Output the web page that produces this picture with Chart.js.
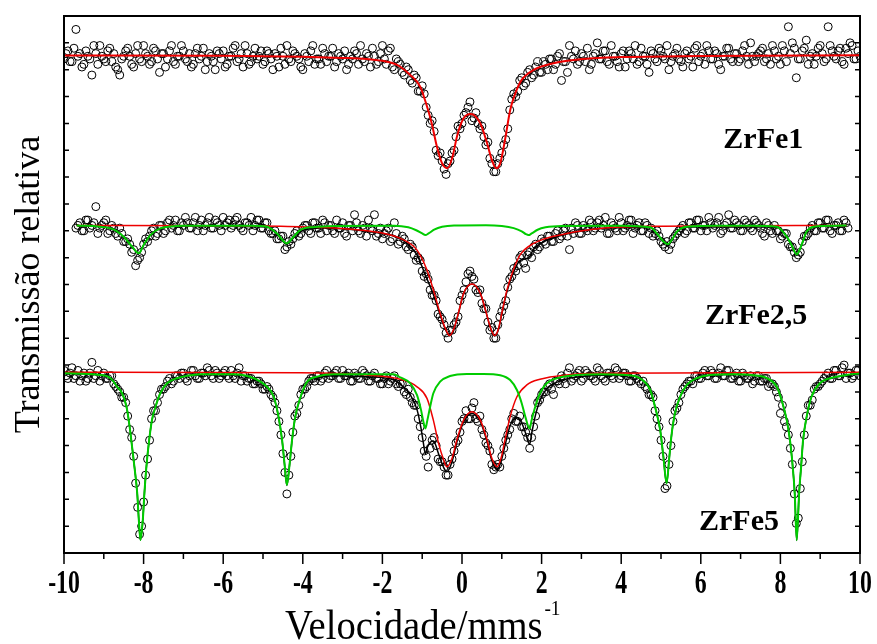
<!DOCTYPE html>
<html>
<head>
<meta charset="utf-8">
<script src="https://cdn.jsdelivr.net/npm/chart.js@4.4.1/dist/chart.umd.min.js"></script>
<style>
  html, body { margin: 0; padding: 0; background: #fff; }
  #wrap { width: 877px; height: 644px; position: relative; }
</style>
</head>
<body>
<div id="wrap"><canvas id="chart"></canvas></div>
<script>
// measured spectra, x = start + i * step (mm/s); two interleaved channel sets per sample
const step = 0.1;
const fe1Start = -10, fe1StartB = -9.95;
const fe25Start = -9.7, fe25StartB = -9.65;
const fe5Start = -10, fe5StartB = -9.95;

const zrfe1Data = [
  18.4, 18.7, 18.3, 19.5, 18.6, 18.2, 18.5, 17.8, 18.6, 18.9,
  18.4, 18.7, 18.3, 18.1, 17.8, 18.5, 18.8, 18.2, 18.6, 18.4,
  18.9, 18.5, 18.3, 18.7, 17.9, 18.6, 18.4, 18.9, 18.2, 18.5,
  18.7, 18.3, 18.1, 18.6, 18.4, 18.8, 18.3, 18.5, 18.0, 18.6,
  18.7, 18.2, 18.5, 18.9, 18.4, 18.1, 18.6, 18.3, 18.8, 18.5,
  18.2, 18.7, 18.4, 18.6, 18.1, 18.5, 18.9, 18.3, 18.6, 18.4,
  18.0, 18.5, 18.7, 18.2, 18.4, 18.8, 18.3, 18.5, 18.1, 18.6,
  18.4, 18.0, 18.5, 18.7, 18.2, 18.4, 18.6, 18.1, 18.5, 18.3,
  18.9, 18.2, 18.8, 18.0, 18.3, 17.9, 18.1, 17.6, 17.8, 17.2,
  17.4, 16.6, 16.0, 15.7, 14.8, 14.6, 14.1, 14.6, 15.0, 15.9,
  16.0, 16.4, 16.8, 16.2, 16.0, 15.9, 15.2, 14.7, 14.2, 14.5,
  14.9, 15.4, 16.5, 17.1, 17.2, 17.7, 17.5, 18.0, 17.8, 18.3,
  17.9, 18.2, 18.4, 18.0, 18.5, 17.6, 18.3, 18.9, 18.4, 18.2,
  18.6, 18.3, 18.0, 18.5, 19.0, 18.4, 18.7, 18.2, 18.5, 18.3,
  18.6, 18.1, 18.7, 18.4, 18.2, 18.8, 18.5, 17.9, 18.6, 18.3,
  18.7, 18.4, 18.0, 18.5, 18.8, 18.3, 18.6, 18.4, 18.1, 18.9,
  18.5, 18.2, 18.7, 18.4, 18.6, 18.0, 18.5, 18.8, 18.3, 18.6,
  18.4, 18.9, 18.2, 18.5, 18.5, 18.7, 18.3, 18.6, 18.9, 18.4,
  18.2, 18.7, 19.6, 19.0, 17.7, 18.4, 18.8, 18.2, 18.6, 18.5,
  18.9, 18.3, 19.6, 18.7, 18.4, 18.8, 18.2, 18.6, 18.9, 18.4,
  18.5
];
const zrfe1DataB = [
  18.6, 18.3, 18.8, 18.5, 18.1, 18.7, 18.4, 18.9, 18.2, 18.5,
  18.3, 18.8, 18.6, 18.0, 18.4, 18.7, 18.5, 18.1, 18.9, 18.3,
  18.6, 18.2, 18.8, 18.4, 18.6, 18.1, 18.7, 18.3, 18.5, 18.9,
  18.4, 18.6, 18.2, 18.8, 18.5, 18.0, 18.6, 18.3, 18.7, 18.4,
  18.1, 18.5, 18.8, 18.3, 18.6, 18.9, 18.2, 18.5, 18.4, 18.7,
  18.3, 18.6, 18.0, 18.5, 18.8, 18.2, 18.4, 18.7, 18.5, 18.1,
  18.6, 18.3, 18.9, 18.4, 18.2, 18.6, 18.5, 18.8, 18.3, 18.5,
  18.7, 18.2, 18.4, 18.6, 18.9, 18.3, 18.5, 18.8, 18.2, 18.6,
  18.4, 18.7, 18.1, 18.4, 18.2, 17.8, 18.0, 17.5, 17.7, 17.2,
  17.1, 16.3, 16.1, 15.0, 14.9, 14.3, 14.5, 14.9, 15.5, 15.8,
  16.3, 16.6, 16.1, 16.4, 15.8, 15.5, 15.3, 14.5, 14.2, 14.7,
  15.2, 15.8, 16.9, 17.0, 17.6, 17.4, 17.9, 17.7, 18.1, 17.9,
  18.3, 18.0, 18.4, 18.2, 18.6, 18.3, 17.9, 18.5, 18.7, 18.3,
  18.5, 18.8, 18.2, 18.6, 18.4, 18.7, 18.3, 18.9, 18.5, 18.1,
  18.7, 18.4, 18.6, 18.9, 18.3, 18.5, 18.2, 18.7, 18.4, 18.8,
  18.5, 18.9, 18.3, 18.6, 18.4, 18.1, 18.7, 18.5, 18.8, 18.3,
  18.6, 18.9, 18.4, 18.7, 18.2, 18.5, 18.8, 18.4, 18.6, 18.3,
  18.7, 18.5, 19.0, 18.3, 18.6, 18.8, 18.4, 18.2, 18.7, 18.5,
  18.9, 18.3, 18.6, 18.8, 18.4, 18.7, 19.1, 18.5, 18.2, 18.8,
  18.6, 18.4, 18.9, 18.5, 18.7, 18.3, 18.8, 19.0, 18.4, 18.7
];

const zrfe25Data = [
  12.1, 12.3, 12.0, 12.4, 12.2, 12.9, 12.1, 12.3, 11.9, 12.2,
  11.9, 12.1, 11.6, 11.7, 11.2, 10.7, 11.0, 11.5, 11.6, 12.0,
  11.8, 12.2, 11.9, 12.3, 12.1, 12.4, 12.0, 12.2, 12.3, 12.1,
  12.5, 12.2, 12.0, 12.3, 12.1, 12.4, 12.2, 12.5, 12.3, 12.1,
  12.4, 12.2, 12.0, 12.3, 12.5, 12.2, 12.4, 12.1, 12.3, 11.9,
  12.0, 11.7, 11.8, 11.4, 11.5, 11.9, 11.8, 12.1, 12.2, 11.9,
  12.3, 12.1, 12.4, 12.0, 12.2, 11.9, 12.1, 12.3, 11.8, 12.2,
  12.6, 12.0, 12.2, 11.8, 12.1, 12.6, 11.9, 11.7, 12.0, 11.6,
  12.3, 11.5, 11.8, 11.4, 11.5, 11.1, 11.0, 10.5, 10.4, 9.8,
  9.6, 8.9, 8.7, 8.2, 8.3, 8.5, 8.8, 9.6, 10.1, 10.5,
  10.2, 9.7, 9.3, 9.1, 8.3, 8.0, 8.5, 9.0, 9.4, 10.2,
  10.6, 10.7, 11.1, 10.6, 11.2, 11.4, 11.3, 11.7, 11.5, 11.8,
  11.6, 12.0, 11.8, 12.1, 11.3, 11.9, 12.2, 11.9, 12.1, 12.4,
  12.0, 12.3, 12.1, 12.5, 11.9, 12.2, 12.0, 12.3, 12.1, 12.4,
  11.9, 12.2, 12.0, 12.3, 11.9, 11.8, 12.0, 11.6, 11.4, 11.3,
  11.7, 11.9, 12.1, 11.9, 12.3, 12.1, 12.4, 12.0, 12.2, 12.5,
  12.1, 12.3, 11.9, 12.2, 12.6, 12.1, 12.3, 12.0, 12.4, 12.2,
  12.0, 12.3, 12.1, 11.8, 12.2, 11.9, 12.0, 11.7, 11.9, 11.5,
  11.4, 11.0, 11.2, 11.8, 11.9, 12.2, 12.0, 12.3, 12.1, 12.4,
  11.9, 12.2, 12.0, 12.4, 12.1
];
const zrfe25DataB = [
  12.2, 12.0, 12.4, 12.1, 12.3, 11.9, 12.2, 12.4, 12.0, 12.1,
  11.8, 11.9, 11.6, 11.5, 11.3, 10.9, 11.2, 11.7, 11.8, 12.1,
  11.9, 12.2, 12.0, 12.4, 12.2, 12.0, 12.3, 12.5, 12.1, 12.3,
  12.0, 12.4, 12.2, 12.5, 12.1, 12.3, 12.0, 12.2, 12.4, 12.2,
  12.5, 12.1, 12.3, 12.2, 12.0, 12.4, 12.1, 12.3, 12.0, 11.9,
  11.7, 11.8, 11.3, 11.6, 11.7, 12.0, 11.9, 12.2, 12.0, 12.3,
  12.1, 11.9, 12.3, 12.2, 12.0, 12.4, 12.1, 11.9, 12.2, 12.0,
  12.3, 11.9, 12.1, 12.4, 12.0, 11.8, 12.1, 11.9, 12.1, 11.7,
  11.9, 11.6, 11.7, 11.3, 11.4, 10.9, 10.9, 10.3, 10.2, 9.6,
  9.4, 8.8, 8.5, 8.0, 8.3, 8.6, 9.4, 9.8, 10.4, 10.3,
  9.8, 9.8, 9.1, 8.6, 8.4, 8.0, 8.8, 9.2, 9.9, 10.3,
  10.5, 11.0, 10.8, 11.1, 11.0, 11.5, 11.4, 11.6, 11.8, 11.6,
  11.9, 11.7, 12.0, 11.8, 12.1, 12.3, 11.9, 12.2, 12.0, 12.3,
  12.1, 12.4, 12.2, 11.9, 12.3, 12.1, 12.5, 12.0, 12.2, 12.4,
  12.1, 12.3, 12.0, 12.2, 12.1, 11.9, 11.8, 11.5, 11.6, 11.5,
  11.8, 12.0, 12.2, 12.0, 12.3, 12.1, 12.4, 12.2, 12.0, 12.3,
  12.2, 12.5, 12.0, 12.3, 12.1, 12.4, 12.2, 12.0, 12.3, 12.1,
  12.4, 12.2, 11.9, 12.3, 12.0, 12.2, 12.0, 11.8, 11.9, 11.4,
  11.2, 11.1, 11.6, 11.8, 12.1, 12.0, 12.3, 12.1, 12.4, 12.0,
  12.2, 12.3, 12.0, 12.3
];

const zrfe5Data = [
  6.8, 6.5, 6.9, 6.6, 6.4, 6.7, 6.5, 7.1, 6.6, 6.4,
  6.7, 6.5, 6.6, 6.2, 6.0, 5.8, 5.1, 4.3, 2.6, 0.7,
  1.9, 3.5, 5.0, 5.3, 5.9, 6.1, 6.4, 6.3, 6.6, 6.5,
  6.7, 6.4, 6.8, 6.6, 6.5, 6.7, 6.9, 6.6, 6.8, 6.5,
  6.7, 6.6, 6.8, 6.5, 6.9, 6.6, 6.4, 6.5, 6.3, 6.4,
  6.1, 6.2, 5.9, 5.6, 4.9, 3.7, 2.2, 3.6, 5.1, 5.5,
  6.1, 6.2, 6.5, 6.4, 6.6, 6.5, 6.8, 6.6, 6.7, 6.5,
  6.8, 6.6, 6.4, 6.7, 6.5, 6.8, 6.6, 6.4, 6.7, 6.5,
  6.3, 6.6, 6.4, 6.6, 6.2, 6.3, 5.9, 5.8, 5.5, 5.0,
  4.3, 3.6, 3.9, 4.3, 3.5, 3.4, 2.9, 3.3, 3.8, 4.2,
  4.9, 5.3, 5.0, 5.6, 4.9, 4.6, 4.1, 3.8, 3.1, 3.3,
  3.6, 4.2, 4.6, 5.2, 4.9, 4.7, 4.5, 3.9, 4.7, 5.6,
  5.9, 6.0, 6.3, 5.9, 6.4, 6.6, 6.3, 6.9, 6.5, 6.7,
  6.4, 6.8, 6.6, 6.5, 6.9, 6.6, 6.4, 6.7, 6.5, 6.8,
  6.6, 6.7, 6.4, 6.6, 6.5, 6.3, 6.2, 5.9, 5.8, 5.0,
  4.2, 2.4, 3.3, 4.9, 5.4, 5.9, 6.2, 6.4, 6.3, 6.6,
  6.5, 6.8, 6.6, 6.7, 6.5, 6.9, 6.6, 6.8, 6.5, 6.7,
  6.4, 6.6, 6.5, 6.3, 6.6, 6.4, 6.5, 6.2, 6.3, 6.0,
  5.2, 4.9, 4.4, 3.3, 1.1, 2.4, 4.4, 5.5, 5.7, 6.2,
  6.3, 6.5, 6.7, 6.5, 6.8, 6.6, 7.0, 6.7, 6.5, 6.8,
  6.6
];
const zrfe5DataB = [
  6.6, 6.7, 6.5, 6.8, 6.6, 6.4, 6.7, 6.5, 6.8, 6.6,
  6.5, 6.6, 6.3, 6.1, 5.8, 5.6, 4.6, 3.6, 1.7, 1.0,
  2.9, 4.2, 5.3, 5.6, 6.1, 6.2, 6.5, 6.4, 6.6, 6.7,
  6.5, 6.6, 6.8, 6.5, 6.7, 6.6, 6.8, 6.5, 6.7, 6.6,
  6.8, 6.5, 6.6, 6.7, 6.4, 6.6, 6.5, 6.3, 6.4, 6.3,
  6.1, 6.1, 5.8, 5.3, 4.4, 3.0, 2.9, 4.5, 5.2, 5.9,
  6.1, 6.4, 6.5, 6.6, 6.4, 6.7, 6.5, 6.6, 6.8, 6.5,
  6.6, 6.7, 6.4, 6.6, 6.5, 6.7, 6.4, 6.6, 6.5, 6.3,
  6.5, 6.3, 6.5, 6.3, 6.3, 6.0, 6.1, 5.6, 5.5, 4.7,
  3.8, 3.2, 4.2, 4.0, 3.4, 3.2, 2.9, 3.5, 4.1, 4.5,
  5.0, 5.0, 5.4, 5.0, 5.1, 4.4, 4.0, 3.3, 3.2, 3.2,
  3.9, 4.4, 5.0, 4.9, 5.1, 4.7, 4.3, 4.3, 5.1, 5.7,
  6.0, 6.2, 6.1, 6.4, 6.3, 6.5, 6.7, 6.4, 6.6, 6.8,
  6.5, 6.7, 6.6, 6.4, 6.8, 6.5, 6.7, 6.6, 6.9, 6.5,
  6.7, 6.6, 6.4, 6.6, 6.4, 6.4, 6.1, 5.9, 5.3, 4.7,
  3.6, 2.5, 4.0, 5.3, 5.6, 6.1, 6.3, 6.4, 6.6, 6.5,
  6.7, 6.6, 6.8, 6.5, 6.7, 6.6, 6.8, 6.5, 6.6, 6.4,
  6.7, 6.5, 6.6, 6.4, 6.6, 6.4, 6.5, 6.3, 6.2, 5.8,
  5.5, 4.7, 3.9, 2.2, 1.3, 3.4, 5.1, 5.5, 6.1, 6.2,
  6.4, 6.6, 6.5, 6.8, 6.6, 6.9, 6.5, 6.7, 6.6, 6.8
];

// fitted curves
const fe1FitX = [-10, -6, -4, -3, -2.4, -2, -1.7, -1.55, -1.3, -1.05, -0.93, -0.76, -0.63, -0.5, -0.37, -0.24, -0.12, 0.04, 0.22, 0.46, 0.63, 0.75, 0.86, 0.96, 1.08, 1.21, 1.34, 1.5, 1.8, 2.3, 3.05, 4, 6, 10];
const fe1FitY = [18.53, 18.52, 18.48, 18.44, 18.4, 18.33, 18.22, 18.11, 17.8, 17.37, 16.87, 16.0, 15.13, 14.51, 14.33, 14.75, 15.55, 16.19, 16.35, 16.0, 15.26, 14.64, 14.33, 14.51, 15.38, 16.49, 17.12, 17.62, 17.99, 18.24, 18.4, 18.47, 18.51, 18.54];

const fe25SextetX = [-9.68, -8.83, -8.5, -8.29, -8.12, -8.0, -7.83, -7.58, -6.99, -5.3, -4.9, -4.65, -4.4, -4.23, -4.06, -3.7, -3.2, -1.7, -1.35, -1.15, -1.0, -0.92, -0.84, -0.7, -0.5, -0.2, 0.6, 1.0, 1.3, 1.5, 1.6, 1.67, 1.75, 1.9, 2.1, 2.5, 4.0, 4.73, 4.93, 5.06, 5.17, 5.27, 5.4, 5.65, 6.4, 7.3, 7.91, 8.16, 8.28, 8.41, 8.53, 8.66, 8.83, 9.1, 9.4, 9.66];
const fe25SextetY = [12.2, 12.09, 11.78, 11.41, 11.16, 11.47, 11.84, 12.09, 12.19, 12.19, 12.15, 11.9, 11.53, 11.78, 12.03, 12.14, 12.18, 12.19, 12.13, 12.02, 11.9, 11.84, 11.9, 12.04, 12.15, 12.2, 12.21, 12.18, 12.1, 11.98, 11.88, 11.84, 11.9, 12.04, 12.13, 12.18, 12.19, 12.13, 11.84, 11.6, 11.5, 11.66, 11.97, 12.15, 12.19, 12.19, 12.15, 11.78, 11.47, 11.12, 11.47, 11.97, 12.15, 12.18, 12.19, 12.2];

const fe25DoubletX = [-9.68, -6, -4.06, -2.39, -1.55, -1.13, -0.88, -0.72, -0.55, -0.42, -0.31, -0.2, -0.08, 0.04, 0.25, 0.46, 0.6, 0.72, 0.82, 0.92, 1.0, 1.13, 1.29, 1.46, 1.8, 2.63, 3.47, 5, 9.66];
const fe25DoubletY = [12.2, 12.19, 12.15, 12.0, 11.72, 11.28, 10.54, 9.8, 8.93, 8.37, 8.1, 8.37, 9.0, 9.67, 10.02, 9.67, 9.0, 8.37, 8.1, 8.37, 8.93, 9.8, 10.54, 11.1, 11.53, 11.9, 12.09, 12.17, 12.2];

const fe25TotalX = [-9.68, -8.83, -8.5, -8.29, -8.12, -8.0, -7.83, -7.58, -6.99, -4.9, -4.65, -4.4, -4.23, -4.06, -3.5, -2.39, -1.55, -1.35, -1.13, -1.0, -0.92, -0.88, -0.72, -0.55, -0.42, -0.31, -0.2, -0.08, 0.04, 0.25, 0.46, 0.6, 0.72, 0.82, 0.92, 1.0, 1.13, 1.29, 1.46, 1.67, 1.8, 2.1, 2.63, 3.47, 4.73, 4.93, 5.06, 5.17, 5.27, 5.4, 5.65, 7.91, 8.16, 8.28, 8.41, 8.53, 8.66, 8.83, 9.66];
const fe25TotalY = [12.2, 12.09, 11.78, 11.41, 11.16, 11.47, 11.84, 12.09, 12.18, 12.14, 11.88, 11.5, 11.74, 11.98, 12.1, 11.98, 11.71, 11.48, 11.1, 10.65, 10.34, 10.21, 9.63, 8.87, 8.34, 8.09, 8.35, 8.98, 9.66, 10.02, 9.66, 8.99, 8.36, 8.08, 8.34, 8.91, 9.74, 10.44, 10.9, 10.99, 11.31, 11.63, 11.88, 12.09, 12.12, 11.83, 11.59, 11.49, 11.65, 11.96, 12.14, 12.14, 11.77, 11.46, 11.11, 11.46, 11.96, 12.14, 12.19];

const fe5SextetX = [-10, -9.08, -8.83, -8.66, -8.54, -8.43, -8.35, -8.29, -8.23, -8.16, -8.12, -8.08, -8.02, -7.98, -7.93, -7.86, -7.79, -7.7, -7.58, -7.41, -7.16, -6.91, -6.57, -5.74, -5.23, -4.9, -4.73, -4.61, -4.52, -4.46, -4.4, -4.33, -4.27, -4.19, -4.06, -3.89, -3.64, -3.23, -1.72, -1.55, -1.3, -1.13, -1.03, -0.97, -0.92, -0.87, -0.8, -0.72, -0.55, -0.3, 0.12, 0.54, 0.96, 1.21, 1.38, 1.5, 1.59, 1.7, 1.75, 1.84, 1.96, 2.13, 2.47, 2.88, 3.47, 4.14, 4.47, 4.73, 4.85, 4.98, 5.06, 5.14, 5.21, 5.27, 5.35, 5.48, 5.65, 5.9, 6.23, 6.82, 7.32, 7.66, 7.91, 8.03, 8.16, 8.24, 8.31, 8.36, 8.41, 8.47, 8.52, 8.57, 8.66, 8.78, 8.99, 9.33, 9.66, 10];
const fe5SextetY = [6.69, 6.63, 6.51, 6.19, 5.95, 5.45, 4.7, 3.96, 3.21, 2.22, 1.23, 0.48, 1.23, 2.22, 3.21, 4.21, 4.95, 5.45, 5.95, 6.32, 6.51, 6.6, 6.66, 6.66, 6.51, 6.19, 5.82, 5.08, 4.21, 3.34, 2.53, 3.34, 4.21, 5.08, 5.8, 6.38, 6.57, 6.66, 6.66, 6.54, 6.32, 5.88, 5.33, 4.89, 4.64, 4.95, 5.45, 5.95, 6.38, 6.59, 6.67, 6.67, 6.62, 6.44, 6.07, 5.58, 5.08, 4.64, 4.95, 5.45, 5.95, 6.32, 6.54, 6.63, 6.66, 6.63, 6.51, 6.07, 5.45, 4.58, 3.59, 2.6, 3.59, 4.46, 5.2, 5.82, 6.26, 6.51, 6.63, 6.66, 6.62, 6.51, 6.19, 5.7, 4.95, 4.21, 3.21, 2.22, 0.48, 2.22, 3.21, 4.21, 5.08, 5.82, 6.32, 6.54, 6.63, 6.69];

const fe5DoubletX = [-10, -4.06, -2.39, -1.55, -1.13, -0.88, -0.72, -0.59, -0.46, -0.38, -0.25, -0.13, 0.04, 0.25, 0.46, 0.63, 0.75, 0.88, 0.98, 1.08, 1.21, 1.38, 1.63, 1.96, 2.63, 3.47, 10];
const fe5DoubletY = [6.73, 6.71, 6.63, 6.47, 6.19, 5.76, 4.95, 4.09, 3.46, 3.21, 3.53, 4.21, 4.95, 5.26, 4.95, 4.21, 3.53, 3.21, 3.53, 4.21, 5.08, 5.82, 6.26, 6.47, 6.63, 6.69, 6.73];

const fe5TotalX = [-10, -9.08, -8.83, -8.66, -8.54, -8.43, -8.35, -8.29, -8.23, -8.16, -8.12, -8.08, -8.02, -7.98, -7.93, -7.86, -7.79, -7.7, -7.58, -7.41, -7.16, -6.91, -6.57, -5.74, -5.23, -4.9, -4.73, -4.61, -4.52, -4.46, -4.4, -4.33, -4.27, -4.19, -4.06, -3.89, -3.64, -3.23, -2.39, -1.72, -1.55, -1.3, -1.13, -1.03, -0.97, -0.92, -0.87, -0.8, -0.72, -0.59, -0.46, -0.38, -0.25, -0.13, 0.04, 0.25, 0.46, 0.63, 0.75, 0.88, 0.98, 1.08, 1.21, 1.38, 1.5, 1.59, 1.7, 1.75, 1.84, 1.96, 2.13, 2.47, 2.88, 3.47, 4.14, 4.47, 4.73, 4.85, 4.98, 5.06, 5.14, 5.21, 5.27, 5.35, 5.48, 5.65, 5.9, 6.23, 6.82, 7.32, 7.66, 7.91, 8.03, 8.16, 8.24, 8.31, 8.36, 8.41, 8.47, 8.52, 8.57, 8.66, 8.78, 8.99, 9.33, 9.66, 10];
const fe5TotalY = [6.69, 6.63, 6.51, 6.19, 5.95, 5.45, 4.7, 3.96, 3.21, 2.22, 1.23, 0.48, 1.23, 2.22, 3.21, 4.21, 4.95, 5.45, 5.95, 6.32, 6.51, 6.6, 6.64, 6.64, 6.49, 6.17, 5.8, 5.06, 4.19, 3.32, 2.51, 3.32, 4.19, 5.06, 5.78, 6.35, 6.53, 6.6, 6.56, 6.45, 6.28, 5.89, 5.34, 4.65, 4.09, 3.7, 3.94, 4.12, 4.17, 3.7, 3.18, 3.03, 3.4, 4.12, 4.88, 5.2, 4.89, 4.14, 3.44, 3.1, 3.4, 4.0, 4.75, 5.05, 4.85, 4.5, 4.05, 4.45, 5.1, 5.69, 6.12, 6.41, 6.55, 6.62, 6.61, 6.5, 6.06, 5.44, 4.57, 3.58, 2.59, 3.58, 4.45, 5.19, 5.81, 6.25, 6.5, 6.62, 6.65, 6.61, 6.5, 6.18, 5.69, 4.94, 4.2, 3.2, 2.21, 0.47, 2.21, 3.2, 4.2, 5.07, 5.81, 6.31, 6.53, 6.62, 6.68];

// axis ticks and annotation text
const xTickLabels = [-10, -8, -6, -4, -2, 0, 2, 4, 6, 8, 10];
const xMinorTicks = [-9, -7, -5, -3, -1, 1, 3, 5, 7, 9];
const yTicks = [1, 2, 3, 4, 5, 6, 7, 8, 9, 10, 11, 12, 13, 14, 15, 16, 17, 18, 19];
const sampleNames = ['ZrFe1', 'ZrFe2,5', 'ZrFe5'];
const sampleNameX = [7.57, 7.39, 6.96];
const sampleNameY = [15.38, 8.83, 1.15];

const RED = '#ee0000';
const GREEN = '#00cc00';

function spectrum(start, ys) {
    return ys.map((y, i) => ({ x: +(start + i * step).toFixed(2), y: y }));
}
function curve(xs, ys) {
    return xs.map((x, i) => ({ x: x, y: ys[i] }));
}
function fitLine(label, xs, ys, color, width, order) {
    return {
        label: label,
        data: curve(xs, ys),
        showLine: true,
        borderColor: color,
        borderWidth: width,
        pointRadius: 0,
        fill: false,
        cubicInterpolationMode: 'monotone',
        order: order
    };
}
function dataPoints(label, start, ys) {
    return {
        label: label,
        data: spectrum(start, ys),
        showLine: false,
        pointRadius: 4,
        pointBorderWidth: 1,
        pointBorderColor: '#000',
        pointBackgroundColor: 'rgba(0,0,0,0)',
        clip: 0,
        order: 3
    };
}

const serif = '"Liberation Serif", "Times New Roman", serif';

// frame, ticks and texts drawn from the chart scales
const framePlugin = {
    id: 'frame',
    afterDraw(chart) {
        const { ctx, chartArea: a, scales: { x, y } } = chart;
        ctx.save();
        ctx.strokeStyle = '#000';
        ctx.lineWidth = 2;
        ctx.strokeRect(a.left, a.top, a.right - a.left, a.bottom - a.top);

        ctx.lineWidth = 1.5;
        ctx.beginPath();
        xTickLabels.forEach(v => {
            const px = x.getPixelForValue(v);
            ctx.moveTo(px, a.bottom); ctx.lineTo(px, a.bottom + 11);
        });
        xMinorTicks.forEach(v => {
            const px = x.getPixelForValue(v);
            ctx.moveTo(px, a.bottom); ctx.lineTo(px, a.bottom + 6);
        });
        yTicks.forEach(v => {
            const py = y.getPixelForValue(v);
            ctx.moveTo(a.left, py); ctx.lineTo(a.left + 5, py);
            ctx.moveTo(a.right, py); ctx.lineTo(a.right - 5, py);
        });
        ctx.stroke();

        ctx.fillStyle = '#000';
        ctx.textAlign = 'center';
        ctx.textBaseline = 'middle';
        ctx.font = 'bold 34px ' + serif;
        xTickLabels.forEach(v => {
            ctx.save();
            ctx.translate(x.getPixelForValue(v), a.bottom + 31);
            ctx.scale(0.7, 1);
            ctx.fillText(String(v), 0, 0);
            ctx.restore();
        });

        ctx.font = 'bold 30px ' + serif;
        sampleNames.forEach((t, i) => {
            ctx.fillText(t, x.getPixelForValue(sampleNameX[i]), y.getPixelForValue(sampleNameY[i]));
        });

        // x title with superscript, slightly condensed like the original
        const main = 'Velocidade/mms';
        ctx.save();
        ctx.translate(285, 639);
        ctx.scale(0.92, 1);
        ctx.font = '42px ' + serif;
        ctx.textAlign = 'left';
        ctx.textBaseline = 'alphabetic';
        const w = ctx.measureText(main).width;
        ctx.fillText(main, 0, 0);
        ctx.font = '21px ' + serif;
        ctx.fillText('-1', w + 2, -24);
        ctx.restore();

        // y title
        ctx.font = '36px ' + serif;
        ctx.textAlign = 'center';
        ctx.textBaseline = 'middle';
        ctx.translate(30, (a.top + a.bottom) / 2);
        ctx.rotate(-Math.PI / 2);
        ctx.fillText('Transmissão relativa', 0, 0);
        ctx.restore();
    }
};

new Chart(document.getElementById('chart'), {
    type: 'scatter',
    data: {
        datasets: [
            fitLine('ZrFe2,5 sexteto', fe25SextetX, fe25SextetY, GREEN, 2, 0),
            fitLine('ZrFe5 sexteto', fe5SextetX, fe5SextetY, GREEN, 2, 0),
            fitLine('ZrFe1 dubleto', fe1FitX, fe1FitY, RED, 2, 1),
            fitLine('ZrFe2,5 dubleto', fe25DoubletX, fe25DoubletY, RED, 1.5, 1),
            fitLine('ZrFe5 dubleto', fe5DoubletX, fe5DoubletY, RED, 1.5, 1),
            fitLine('ZrFe2,5 total', fe25TotalX, fe25TotalY, '#000', 1.5, 2),
            fitLine('ZrFe5 total', fe5TotalX, fe5TotalY, '#000', 1.5, 2),
            dataPoints('ZrFe1', fe1Start, zrfe1Data),
            dataPoints('ZrFe1 b', fe1StartB, zrfe1DataB),
            dataPoints('ZrFe2,5', fe25Start, zrfe25Data),
            dataPoints('ZrFe2,5 b', fe25StartB, zrfe25DataB),
            dataPoints('ZrFe5', fe5Start, zrfe5Data),
            dataPoints('ZrFe5 b', fe5StartB, zrfe5DataB)
        ]
    },
    options: {
        responsive: true,
        maintainAspectRatio: false,
        animation: false,
        layout: { padding: { left: 64, right: 17, top: 16, bottom: 91 } },
        plugins: { legend: { display: false }, tooltip: { enabled: false } },
        scales: {
            x: { type: 'linear', min: -10, max: 10, display: false },
            y: { type: 'linear', min: 0, max: 20, display: false }
        }
    },
    plugins: [framePlugin]
});
</script>
</body>
</html>
